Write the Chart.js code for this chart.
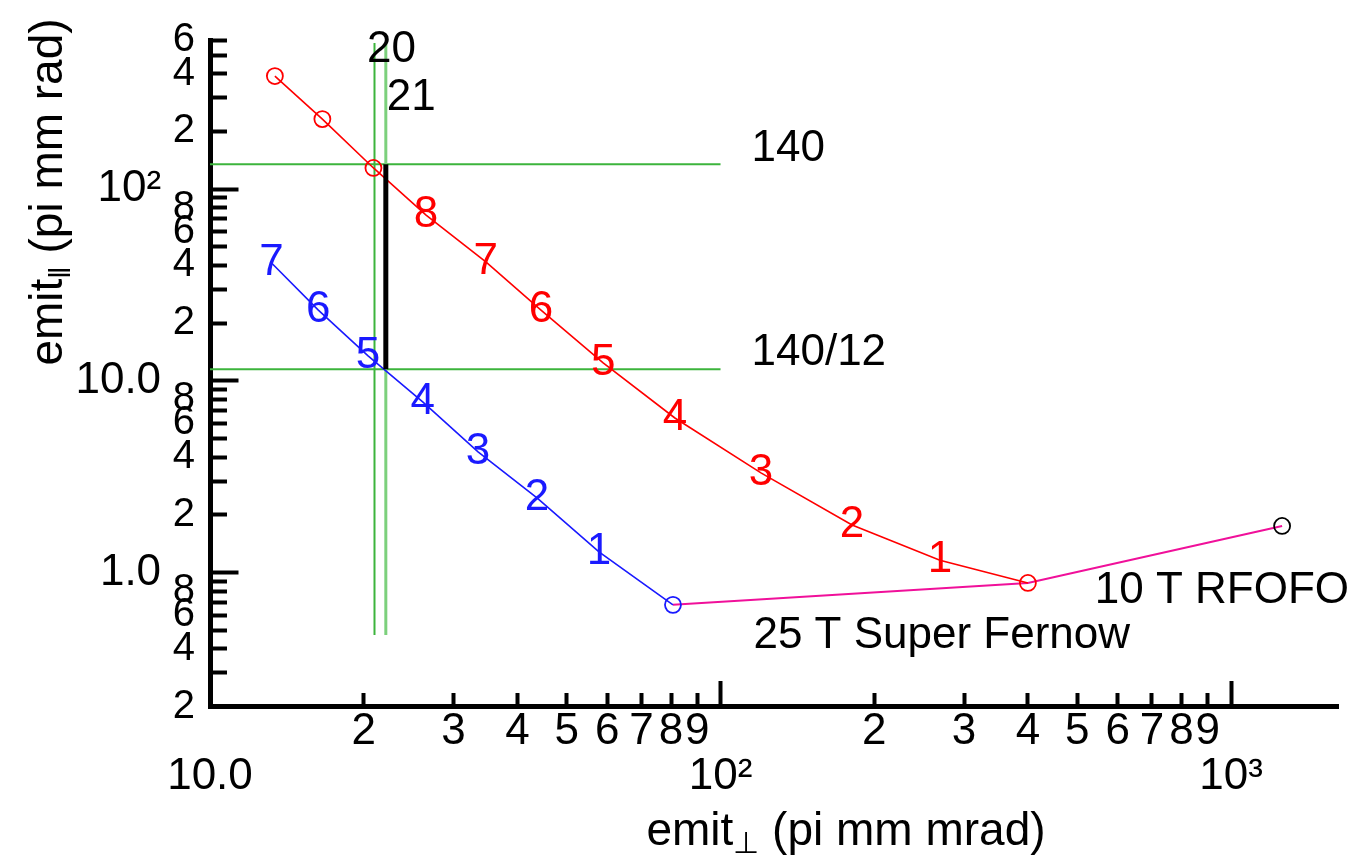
<!DOCTYPE html>
<html>
<head>
<meta charset="utf-8">
<script src="https://cdn.jsdelivr.net/npm/chart.js@4.4.0/dist/chart.umd.min.js"></script>
<style>
  html, body { margin: 0; padding: 0; background: #fff; }
  #wrap { width: 1354px; height: 864px; }
</style>
</head>
<body>
<div id="wrap"><canvas id="chart" width="1354" height="864"></canvas></div>
<script>
// --- Data ---

// 10 T RFOFO channel (red)
const redX = [13.4, 16.6, 20.9, 26.5, 34.7, 44.5, 58.9, 81.4, 120, 181, 269, 400]
const redY = [389, 232, 129, 73.3, 41.7, 23.4, 12.4, 6.40, 3.31, 1.77, 1.16, 0.882]
const redTags = ['', '', '', '8', '7', '6', '5', '4', '3', '2', '1', '']

// 25 T Super Fernow (blue)
const blueX = [13.2, 16.3, 20.4, 26.1, 33.5, 43.7, 57.8, 80.7]
const blueY = [41.2, 23.4, 13.5, 7.76, 4.26, 2.45, 1.28, 0.678]
const blueTags = ['7', '6', '5', '4', '3', '2', '1', '']

// link between the two end points and the start (magenta)
const linkX = [80.7, 400, 1259]
const linkY = [0.678, 0.882, 1.75]

// green guide lines and the black bar
const guideX = [21.0, 22.1]
const guideXSpan = [0.472, 579]
const guideY = [135, 11.5]
const guideYSpan = [10, 100]
const barX = 22.1
const barY = [11.5, 135]

// text notes
const noteText = ['140', '140/12', '20', '21', '10 T RFOFO', '25 T Super Fernow']
const noteX = [115, 115, 20.3, 22.2, 541, 116]
const noteY = [162, 14.0, 532, 299, 0.80, 0.47]

// axis ticks
const xMinorTicks = [20, 30, 40, 50, 60, 70, 80, 90, 200, 300, 400, 500, 600, 700, 800, 900]
const xMinorLabels = ['2', '3', '4', '5', '6', '7', '8', '9', '2', '3', '4', '5', '6', '7', '8', '9']
const xMajorTicks = [10, 100, 1000]
const xMajorLabels = ['10.0', '10\u00b2', '10\u00b3']
const yMinorTicks = [0.3, 0.4, 0.5, 0.6, 0.7, 0.8, 0.9, 2, 3, 4, 5, 6, 7, 8, 9,
  20, 30, 40, 50, 60, 70, 80, 90, 200, 300, 400, 500, 600]
const yLabelTicks = [0.2, 0.4, 0.6, 0.8, 2, 4, 6, 8, 20, 40, 60, 80, 200, 400, 600]
const yLabelText = ['2', '4', '6', '8', '2', '4', '6', '8', '2', '4', '6', '8', '2', '4', '6']
const yMajorTicks = [1, 10, 100]
const yMajorLabels = ['1.0', '10.0', '10\u00b2']

// --- Helpers ---

const FONT = '"Liberation Sans", Arial, sans-serif'
const zip = (xs, ys) => xs.map((x, i) => ({ x: x, y: ys[i] }))

function fixedTicks(values) {
  return scale => { scale.ticks = values.map(v => ({ value: v })) }
}

// object-positioned axes must not eat layout space
function noPadding(scale) {
  scale.paddingLeft = 0
  scale.paddingRight = 0
  scale.paddingTop = 0
  scale.paddingBottom = 0
}

function logAxis(min, max, position, values, labels, extra) {
  const cfg = {
    type: 'logarithmic',
    min: min,
    max: max,
    position: position,
    afterBuildTicks: fixedTicks(values),
    afterFit: noPadding,
    ticks: {
      display: !!labels,
      autoSkip: false,
      maxRotation: 0,
      minRotation: 0,
      padding: 0,
      color: '#000',
      font: { family: FONT, size: 44 },
      callback: (v, i) => labels ? labels[i] : ''
    },
    grid: { display: false, drawOnChartArea: false, drawTicks: false },
    border: { display: false }
  }
  return Chart.helpers.merge(cfg, extra || {})
}

const tickGrid = len => ({
  display: true, drawOnChartArea: false, drawTicks: true,
  tickLength: len, tickWidth: 4, tickColor: '#000'
})

function guide(x1, y1, x2, y2, color, width) {
  return {
    data: [{ x: x1, y: y1 }, { x: x2, y: y2 }],
    showLine: true, borderColor: color, borderWidth: width,
    pointRadius: 0, xAxisID: 'x', yAxisID: 'y'
  }
}

// draw a string with a small lowered middle part (the subscript)
function drawSubscripted(ctx, parts, cx, cy) {
  const widths = parts.map(p => { ctx.font = p[1] + 'px ' + FONT; return ctx.measureText(p[0]).width })
  let x = cx - widths.reduce((a, b) => a + b, 0) / 2
  ctx.textAlign = 'left'
  ctx.textBaseline = 'alphabetic'
  parts.forEach((p, i) => {
    ctx.font = p[1] + 'px ' + FONT
    ctx.fillText(p[0], x, cy + p[2])
    x += widths[i]
  })
}

// --- Labels on curves, notes and axis titles ---

const annotate = {
  id: 'annotate',
  afterDatasetsDraw(chart) {
    const ctx = chart.ctx
    const xs = chart.scales.x
    const ys = chart.scales.y
    ctx.save()

    // step numbers sitting on the curves
    ctx.font = '44px ' + FONT
    ctx.textAlign = 'center'
    ctx.textBaseline = 'middle'
    chart.data.datasets.forEach((ds, di) => {
      if (!ds.tags) return
      chart.getDatasetMeta(di).data.forEach((pt, i) => {
        if (!ds.tags[i]) return
        ctx.fillStyle = ds.borderColor
        ctx.fillText(ds.tags[i], pt.x, pt.y)
      })
    })

    // free text notes
    ctx.fillStyle = '#000'
    ctx.textAlign = 'left'
    noteText.forEach((t, i) => {
      ctx.fillText(t, xs.getPixelForValue(noteX[i]), ys.getPixelForValue(noteY[i]))
    })

    // axis titles
    const area = chart.chartArea
    drawSubscripted(ctx, [['emit', 46, 0], ['\u22a5', 30, 8], [' (pi mm mrad)', 46, 0]],
      (area.left + area.right) / 2 + 72, 845)
    ctx.translate(46, 192)
    ctx.rotate(-Math.PI / 2)
    drawSubscripted(ctx, [['emit', 46, 0], ['\u2016', 30, 8], [' (pi mm rad)', 46, 0]], 0, 16)
    ctx.restore()
  }
}

// --- Chart ---

new Chart(document.getElementById('chart'), {
  type: 'scatter',
  data: {
    datasets: [
      guide(barX, barY[0], barX, barY[1], '#000', 5),
      {
        data: zip(redX, redY), tags: redTags,
        showLine: true, borderColor: '#ff0000', borderWidth: 1.6,
        pointRadius: redTags.map((t, i) => (i < 3 || i === redTags.length - 1) ? 8 : 0),
        pointBorderColor: '#ff0000', pointBorderWidth: 1.8, pointBackgroundColor: 'rgba(0,0,0,0)',
        xAxisID: 'x', yAxisID: 'y'
      },
      {
        data: zip(blueX, blueY), tags: blueTags,
        showLine: true, borderColor: '#1a1aff', borderWidth: 1.6,
        pointRadius: blueTags.map((t, i) => i === blueTags.length - 1 ? 8 : 0),
        pointBorderColor: '#1a1aff', pointBorderWidth: 1.8, pointBackgroundColor: 'rgba(0,0,0,0)',
        xAxisID: 'x', yAxisID: 'y'
      },
      {
        data: zip(linkX, linkY),
        showLine: true, borderColor: '#f0109a', borderWidth: 2,
        pointRadius: [0, 0, 8],
        pointBorderColor: '#000', pointBorderWidth: 1.8, pointBackgroundColor: 'rgba(0,0,0,0)',
        xAxisID: 'x', yAxisID: 'y'
      },
      guide(guideX[0], guideXSpan[0], guideX[0], guideXSpan[1], '#3cb43c', 2),
      guide(guideX[1], guideXSpan[0], guideX[1], guideXSpan[1], '#7cd07c', 3),
      guide(guideYSpan[0], guideY[0], guideYSpan[1], guideY[0], '#3cb43c', 2),
      guide(guideYSpan[0], guideY[1], guideYSpan[1], guideY[1], '#3cb43c', 2)
    ]
  },
  options: {
    responsive: false,
    animation: false,
    devicePixelRatio: 1,
    layout: { padding: { left: 210, top: 40, right: 16, bottom: 157.5 } },
    plugins: { legend: { display: false }, tooltip: { enabled: false } },
    scales: {
      x: logAxis(10, 1620, { y: 0.2 }, xMinorTicks, xMinorLabels, {
        ticks: { padding: 15 },
        grid: tickGrid(-16),
        border: { display: true, width: 5, color: '#000' }
      }),
      xMajor: logAxis(10, 1620, { y: 0.2 }, xMajorTicks, xMajorLabels, {
        ticks: { padding: 70 },
        grid: tickGrid(-26)
      }),
      y: logAxis(0.2, 600, { x: 10 }, yMinorTicks, null, {
        grid: tickGrid(-19),
        border: { display: true, width: 5, color: '#000' }
      }),
      yMajor: logAxis(0.2, 600, { x: 10 }, yMajorTicks, null, {
        grid: tickGrid(-28.5)
      }),
      yLabels: logAxis(0.2, 600, { x: 9.346 }, yLabelTicks, yLabelText, {
        ticks: { font: { size: 40 } }
      }),
      yMajorLabels: logAxis(0.2, 600, { x: 8.02 }, yMajorTicks, yMajorLabels)
    }
  },
  plugins: [annotate]
})
</script>
</body>
</html>
